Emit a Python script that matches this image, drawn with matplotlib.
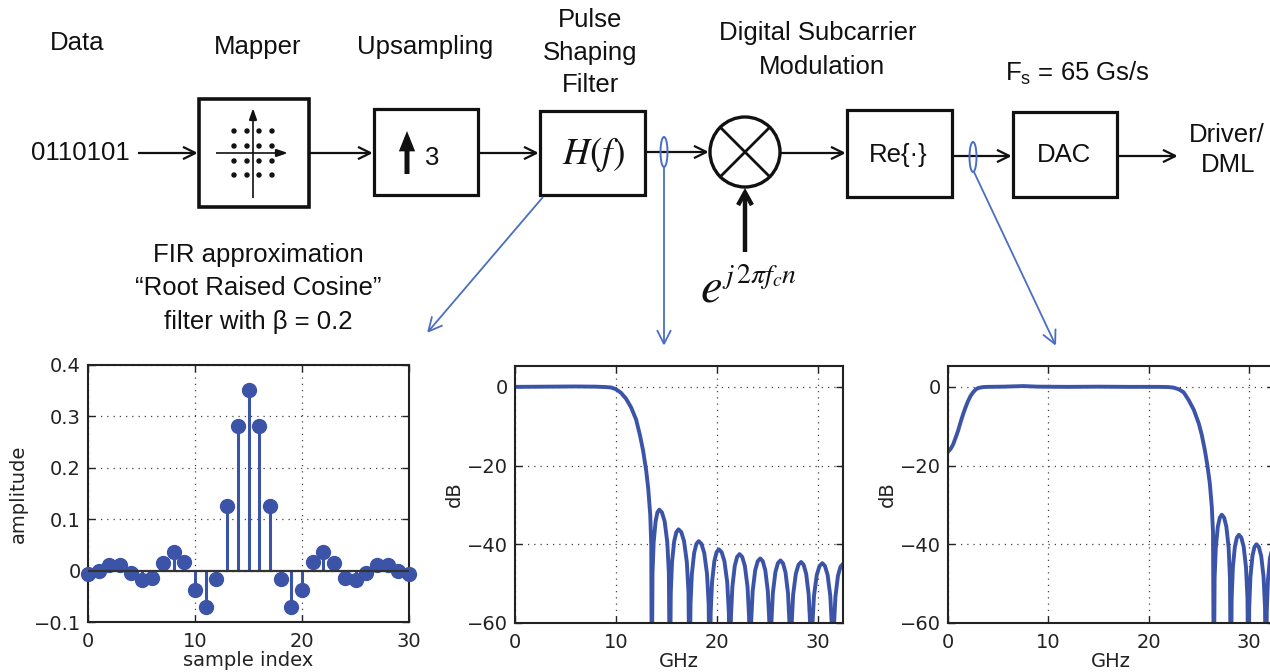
import matplotlib
matplotlib.use('Agg')
import matplotlib.pyplot as plt
from matplotlib.patches import Rectangle, Circle, Ellipse, FancyArrowPatch

# ---------------- data ----------------
tap_index = list(range(31))
tap_amplitude = [-0.006, 0.0, 0.011, 0.011, -0.005, -0.018, -0.014, 0.015, 0.036, 0.016,
                 -0.038, -0.070, -0.017, 0.125, 0.282, 0.351, 0.282, 0.125, -0.017, -0.070,
                 -0.038, 0.016, 0.036, 0.015, -0.014, -0.018, -0.005, 0.011, 0.011, 0.0, -0.006]

# pulse shaping filter response (GHz, dB)
pulse_freq = [0, 3, 6, 8, 9, 9.5, 10, 10.5, 11, 11.5, 12, 12.4, 12.7, 13.0, 13.2, 13.4, 13.5, 13.55,
              13.625, 13.74, 13.93, 14.11, 14.3, 14.56, 14.83, 15.09, 15.245, 15.35,
              15.435, 15.56, 15.775, 15.99, 16.2, 16.475, 16.75, 17.025, 17.19, 17.3,
              17.39, 17.525, 17.75, 17.975, 18.2, 18.475, 18.75, 19.025, 19.19, 19.3,
              19.39, 19.525, 19.75, 19.975, 20.2, 20.475, 20.75, 21.025, 21.19, 21.3,
              21.395, 21.54, 21.775, 22.01, 22.25, 22.51, 22.775, 23.04, 23.195, 23.3,
              23.4, 23.55, 23.8, 24.05, 24.3, 24.55, 24.8, 25.05, 25.2, 25.3,
              25.4, 25.55, 25.8, 26.05, 26.3, 26.55, 26.8, 27.05, 27.2, 27.3,
              27.405, 27.56, 27.825, 28.09, 28.35, 28.6, 28.85, 29.1, 29.25, 29.35,
              29.46, 29.625, 29.9, 30.175, 30.45, 30.71, 30.975, 31.24, 31.395, 31.5,
              31.6, 31.75, 32.0, 32.25, 32.5]
pulse_db = [0, 0.05, 0.1, 0.05, -0.05, -0.15, -0.6, -1.5, -3.0, -5.2, -8.3, -12.5, -16.3, -21.3, -25.8, -32.5, -40, -80,
            -47.3, -39.5, -34.2, -31.9, -31.2, -31.9, -34.2, -39.5, -47.3, -80,
            -52.3, -44.5, -39.2, -36.9, -36.2, -36.9, -39.2, -44.5, -52.3, -80,
            -55.3, -47.5, -42.2, -39.9, -39.2, -39.9, -42.2, -47.5, -55.3, -80,
            -57.4, -49.6, -44.3, -42.0, -41.3, -42.0, -44.3, -49.6, -57.4, -80,
            -58.6, -50.8, -45.5, -43.2, -42.5, -43.2, -45.5, -50.8, -58.6, -80,
            -59.7, -51.9, -46.6, -44.3, -43.6, -44.3, -46.6, -51.9, -59.7, -80,
            -60.2, -52.4, -47.1, -44.8, -44.1, -44.8, -47.1, -52.4, -60.2, -80,
            -60.6, -52.8, -47.5, -45.2, -44.5, -45.2, -47.5, -52.8, -60.6, -80,
            -60.9, -53.1, -47.8, -45.5, -44.8, -45.5, -47.8, -53.1, -60.9, -80,
            -61.1, -53.3, -48.0, -45.7, -45.0]

# after Re{.} (GHz, dB)
sub_freq = [0, 0.25, 0.5, 0.75, 1.0, 1.25, 1.5, 1.75, 2.0, 2.25, 2.5, 2.75, 3.0, 3.5, 4.0, 5.5, 7.5, 9,
            12, 15, 18, 21, 22, 22.5, 23.0, 23.5, 24.0, 24.5, 25.0, 25.3, 25.6, 25.85, 26.1, 26.3, 26.42, 26.5,
            26.58, 26.7, 26.9, 27.1, 27.3, 27.525, 27.75, 27.975, 28.11, 28.2,
            28.28, 28.4, 28.6, 28.8, 29.0, 29.24, 29.475, 29.71, 29.855, 29.95,
            30.03, 30.15, 30.35, 30.55, 30.75, 30.99, 31.225, 31.46, 31.605, 31.7,
            31.78, 31.9, 32.1, 32.3, 32.5]
sub_db = [-16.5, -15.8, -14.7, -13.0, -11.2, -9.0, -7.0, -5.2, -3.6, -2.3, -1.4, -0.7, -0.3, -0.05, 0.0, 0.05, 0.2, 0.05,
          0.0, 0.05, 0.0, 0.0, -0.05, -0.2, -0.6, -1.4, -3.4, -5.8, -9.3, -12.2, -16.0, -19.8, -24.5, -30.5, -37.0, -80,
          -48.6, -40.8, -35.5, -33.2, -32.5, -33.2, -35.5, -40.8, -48.6, -80,
          -53.7, -45.9, -40.6, -38.3, -37.6, -38.3, -40.6, -45.9, -53.7, -80,
          -56.1, -48.3, -43.0, -40.7, -40.0, -40.7, -43.0, -48.3, -56.1, -80,
          -57.0, -49.0, -43.5, -41.3, -40.6]

stem_xticks = [0, 10, 20, 30]
stem_yticks = [-0.1, 0, 0.1, 0.2, 0.3, 0.4]
stem_yticklabels = ['\u22120.1', '0', '0.1', '0.2', '0.3', '0.4']
freq_xticks = [0, 10, 20, 30]
db_yticks = [-60, -40, -20, 0]
db_yticklabels = ['\u221260', '\u221240', '\u221220', '0']

# ---------------- style ----------------
BLUE = '#3B54A8'
LBLUE = '#4A6EC2'
DFONT = 'Liberation Sans'
DSIZE = 18.5
PFONT = 'DejaVu Sans'
PSIZE = 14

W, H = 1270, 672
fig = plt.figure(figsize=(W / 100, H / 100), dpi=100)

# ---------------- block diagram layer ----------------
ax0 = fig.add_axes([0, 0, 1, 1])
ax0.set_xlim(0, W)
ax0.set_ylim(H, 0)
ax0.axis('off')


def txt(x, y, s, size=DSIZE, **kw):
    kw.setdefault('ha', 'center')
    kw.setdefault('va', 'center')
    ax0.text(x, y, s, fontsize=size, family=DFONT, color='#111111', **kw)


def arrow(p0, p1, color='#111111', lw=1.6, style='->', hl=0.45, hw=0.22, ms=20):
    ax0.add_patch(FancyArrowPatch(p0, p1, arrowstyle=f'{style},head_length={hl},head_width={hw}',
                                  mutation_scale=ms, color=color, lw=lw, shrinkA=0, shrinkB=0,
                                  joinstyle='miter', capstyle='butt'))


def box(x0, y0, x1, y1, lw=2.3):
    ax0.add_patch(Rectangle((x0, y0), x1 - x0, y1 - y0, fill=False, lw=lw, ec='#111111'))


# headings
txt(77, 43, 'Data')
txt(258, 47, 'Mapper')
txt(425, 47, 'Upsampling')
txt(590, 20, 'Pulse')
txt(590, 53, 'Shaping')
txt(590, 85, 'Filter')
txt(818, 33, 'Digital Subcarrier')
txt(822, 67, 'Modulation')
txt(1077, 73, r'F$_{\mathregular{s}}$ = 65 Gs/s')
txt(80, 153, '0110101')
txt(1227, 135, 'Driver/')
txt(1228, 165, 'DML')
txt(258, 255, 'FIR approximation')
txt(258, 288, '\u201cRoot Raised Cosine\u201d')
txt(258, 322, 'filter with \u03b2 = 0.2')

# boxes
box(199, 99, 309, 207, lw=2.6)
box(374, 109, 478, 195)
box(540, 111, 645, 195)
box(847, 110, 952, 197)
box(1013, 112, 1117, 197)

# mapper constellation
arrow((253, 198), (253, 108), lw=1.2, style='-|>', hl=0.35, hw=0.12, ms=20)
arrow((216, 153), (288, 153), lw=1.2, style='-|>', hl=0.35, hw=0.12, ms=20)
for cx in [234, 247, 259, 272]:
    for cy in [131, 146, 161, 175]:
        ax0.add_patch(Circle((cx, cy), 2.0, color='#111111'))

# upsampling glyph
arrow((407, 174), (407, 131), lw=3.6, style='-|>', hl=0.4, hw=0.16, ms=20)
txt(432, 158, '3')

# H(f)
ax0.text(594, 154, r'$H\left(f\right)$', fontsize=27, ha='center', va='center',
         math_fontfamily='stix', color='#111111')
txt(898, 155, 'Re{\u00b7}')
txt(1064, 155, 'DAC')

# mixer
MX, MY, MR = 745, 152, 35
ax0.add_patch(Circle((MX, MY), MR, fill=False, lw=2.4, ec='#111111'))
d = MR * 0.7071
ax0.plot([MX - d, MX + d], [MY - d, MY + d], color='#111111', lw=2.0)
ax0.plot([MX - d, MX + d], [MY + d, MY - d], color='#111111', lw=2.0)
arrow((MX, 252), (MX, MY + MR + 1), lw=3.2, hl=0.45, hw=0.25)
ax0.text(711, 302, r'$e$', fontsize=35, ha='center', va='baseline', math_fontfamily='stix',
         color='#111111')
ax0.text(722, 283, r'$j\,2\pi f_c n$', fontsize=20, ha='left', va='baseline',
         math_fontfamily='stix', color='#111111')

# signal path arrows
arrow((138, 153), (198, 153))
arrow((309, 153), (373, 153))
arrow((478, 153), (539, 153))
arrow((645, 152), (709, 152))
arrow((781, 153), (846, 153))
arrow((952, 156), (1012, 156))
arrow((1117, 156), (1178, 156))

# probes
ax0.add_patch(Ellipse((664, 152), 7, 30, fill=False, ec=LBLUE, lw=1.4))
ax0.add_patch(Ellipse((973, 157), 7, 30, fill=False, ec=LBLUE, lw=1.4))
arrow((543, 197), (427, 333), color=LBLUE, lw=1.3, hl=0.5, hw=0.25)
arrow((664, 167), (664, 346), color=LBLUE, lw=1.3, hl=0.5, hw=0.25)
arrow((974, 172), (1056, 346), color=LBLUE, lw=1.3, hl=0.5, hw=0.25)


# ---------------- plots ----------------
def style_axes(ax):
    ax.grid(True, linestyle=(0, (1, 4)), color='#444444', linewidth=0.9)
    ax.set_axisbelow(True)
    ax.tick_params(direction='in', length=5, width=1.0, top=True, right=True,
                   labelsize=PSIZE, colors='#222222')
    ax.tick_params(axis='x', pad=7)
    ax.tick_params(axis='y', pad=5)
    for s in ax.spines.values():
        s.set_linewidth(1.5)
        s.set_color('#222222')
    for lab in ax.get_xticklabels() + ax.get_yticklabels():
        lab.set_family(PFONT)


def fx(px):
    return px / W


def fy(top, bottom):
    return 1 - bottom / H, (bottom - top) / H


# stem plot
b, h = fy(365, 622)
ax1 = fig.add_axes([fx(88), b, fx(321), h])
ml, sl, bl = ax1.stem(tap_index, tap_amplitude)
ml.set_color(BLUE)
ml.set_markersize(10)
ml.set_clip_on(False)
ml.set_zorder(3)
sl.set_color(BLUE)
sl.set_linewidth(2.2)
bl.set_color('#333333')
bl.set_linewidth(1.6)
bl.set_zorder(4)
ax1.set_xlim(0, 30)
ax1.set_ylim(-0.1, 0.4)
ax1.set_xticks(stem_xticks)
ax1.set_yticks(stem_yticks)
ax1.set_yticklabels(stem_yticklabels)
ax1.set_xlabel('sample index', fontsize=PSIZE, family=PFONT, labelpad=0, color='#222222')
ax1.set_ylabel('amplitude', fontsize=PSIZE, family=PFONT, labelpad=4, color='#222222')
style_axes(ax1)

# pulse response
b, h = fy(366, 623)
ax2 = fig.add_axes([fx(515), b, fx(328), h])
ax2.plot(pulse_freq, pulse_db, color=BLUE, lw=2.8, solid_joinstyle='round')
ax2.set_xlim(0, 32.5)
ax2.set_ylim(-60, 5.3)
ax2.set_xticks(freq_xticks)
ax2.set_yticks(db_yticks)
ax2.set_yticklabels(db_yticklabels)
ax2.set_xlabel('GHz', fontsize=PSIZE, family=PFONT, labelpad=0, color='#222222')
ax2.set_ylabel('dB', fontsize=PSIZE, family=PFONT, labelpad=2, color='#222222')
style_axes(ax2)

# after Re{.}
ax3 = fig.add_axes([fx(948), b, fx(326), h])
ax3.plot(sub_freq, sub_db, color=BLUE, lw=2.8, solid_joinstyle='round')
ax3.set_xlim(0, 32.5)
ax3.set_ylim(-60, 5.3)
ax3.set_xticks(freq_xticks)
ax3.set_yticks(db_yticks)
ax3.set_yticklabels(db_yticklabels)
ax3.set_xlabel('GHz', fontsize=PSIZE, family=PFONT, labelpad=0, color='#222222')
ax3.set_ylabel('dB', fontsize=PSIZE, family=PFONT, labelpad=2, color='#222222')
style_axes(ax3)

fig.savefig('out.png', dpi=100)
